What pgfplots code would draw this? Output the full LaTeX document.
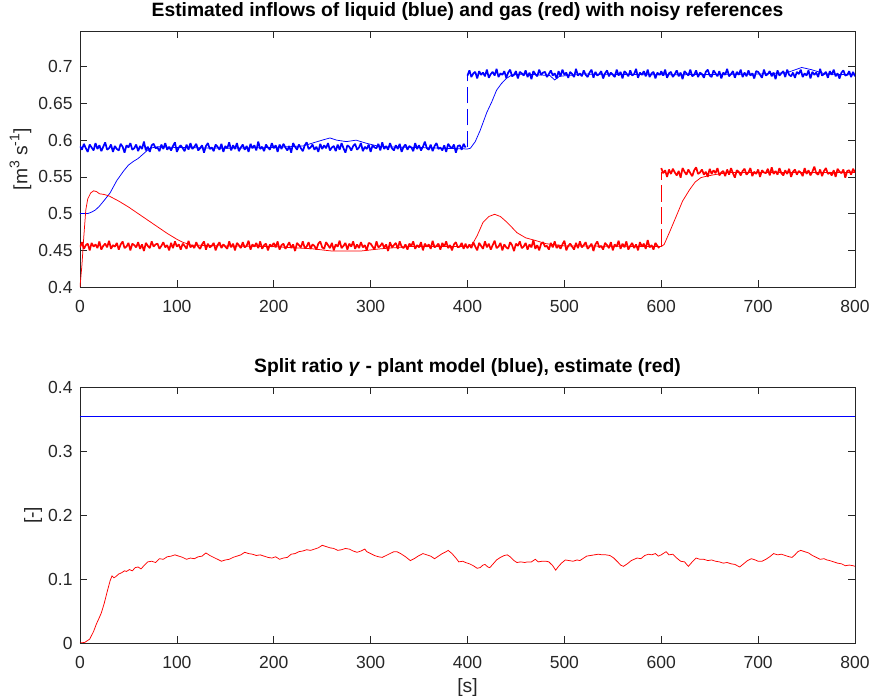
\documentclass[border=0pt]{standalone}
\usepackage{pgfplots}
\pgfplotsset{compat=1.18}
\usepackage{pgfplotstable}
\usepackage{fontspec}
\setmainfont{Liberation Sans}
\definecolor{axgray}{RGB}{38,38,38}
\definecolor{mblue}{RGB}{0,0,255}
\definecolor{mred}{RGB}{255,0,0}
\newcommand\sups[1]{\raisebox{0.42em}{\fontsize{14}{14}\selectfont #1}}

% noisy reference inflows: t [s], liquid (b), gas (r)
\pgfplotstableread{
t b r
0 0.592 0.454
2 0.587 0.461
4 0.595 0.452
6 0.589 0.457
8 0.584 0.459
10 0.594 0.450
12 0.590 0.460
14 0.586 0.455
16 0.596 0.458
18 0.588 0.453
20 0.593 0.462
22 0.585 0.451
24 0.591 0.456
26 0.597 0.459
28 0.587 0.454
30 0.589 0.463
32 0.594 0.452
34 0.584 0.457
36 0.592 0.455
38 0.588 0.460
40 0.586 0.451
42 0.595 0.458
44 0.591 0.462
46 0.583 0.453
48 0.593 0.455
50 0.590 0.460
52 0.596 0.450
54 0.587 0.459
56 0.589 0.457
58 0.594 0.454
60 0.585 0.461
62 0.592 0.452
64 0.588 0.458
66 0.598 0.449
68 0.586 0.460
70 0.591 0.456
72 0.584 0.453
74 0.593 0.462
76 0.595 0.455
78 0.589 0.458
80 0.590 0.459
82 0.585 0.452
84 0.594 0.456
86 0.588 0.461
88 0.596 0.454
90 0.587 0.457
92 0.591 0.450
94 0.586 0.460
96 0.592 0.453
98 0.597 0.462
100 0.584 0.455
102 0.590 0.458
104 0.593 0.451
106 0.589 0.459
108 0.585 0.456
110 0.594 0.452
112 0.587 0.463
114 0.596 0.454
116 0.588 0.457
118 0.591 0.453
120 0.595 0.461
122 0.586 0.455
124 0.589 0.452
126 0.593 0.458
128 0.583 0.462
130 0.592 0.451
132 0.596 0.459
134 0.588 0.454
136 0.590 0.456
138 0.585 0.460
140 0.594 0.450
142 0.591 0.457
144 0.587 0.461
146 0.595 0.453
148 0.584 0.458
150 0.592 0.455
152 0.589 0.452
154 0.597 0.462
156 0.586 0.454
158 0.593 0.459
160 0.588 0.450
162 0.596 0.460
164 0.585 0.457
166 0.590 0.453
168 0.594 0.461
170 0.587 0.454
172 0.592 0.456
174 0.584 0.463
176 0.595 0.451
178 0.589 0.458
180 0.593 0.455
182 0.586 0.460
184 0.598 0.453
186 0.588 0.462
188 0.591 0.452
190 0.585 0.457
192 0.594 0.459
194 0.590 0.450
196 0.587 0.458
198 0.596 0.455
200 0.589 0.460
202 0.593 0.454
204 0.584 0.462
206 0.594 0.451
208 0.588 0.457
210 0.595 0.459
212 0.590 0.452
214 0.586 0.456
216 0.592 0.461
218 0.583 0.453
220 0.596 0.458
222 0.591 0.449
224 0.587 0.460
226 0.594 0.457
228 0.589 0.454
230 0.585 0.462
232 0.593 0.453
234 0.597 0.455
236 0.588 0.461
238 0.590 0.452
240 0.594 0.458
242 0.587 0.456
244 0.591 0.451
246 0.584 0.459
248 0.595 0.462
250 0.588 0.454
252 0.593 0.452
254 0.589 0.461
256 0.596 0.457
258 0.586 0.453
260 0.590 0.460
262 0.592 0.450
264 0.585 0.458
266 0.594 0.455
268 0.587 0.463
270 0.596 0.453
272 0.589 0.456
274 0.583 0.460
276 0.593 0.451
278 0.591 0.459
280 0.586 0.455
282 0.592 0.462
284 0.595 0.452
286 0.587 0.458
288 0.590 0.453
290 0.596 0.461
292 0.585 0.454
294 0.591 0.457
296 0.588 0.450
298 0.594 0.460
300 0.584 0.459
302 0.593 0.455
304 0.590 0.451
306 0.589 0.462
308 0.595 0.454
310 0.586 0.456
312 0.597 0.460
314 0.588 0.453
316 0.592 0.458
318 0.587 0.449
320 0.596 0.461
322 0.589 0.454
324 0.586 0.457
326 0.593 0.460
328 0.588 0.452
330 0.595 0.462
332 0.584 0.455
334 0.591 0.453
336 0.594 0.458
338 0.587 0.451
340 0.592 0.459
342 0.590 0.456
344 0.585 0.462
346 0.596 0.452
348 0.588 0.457
350 0.593 0.454
352 0.586 0.461
354 0.591 0.450
356 0.598 0.459
358 0.589 0.455
360 0.587 0.458
362 0.594 0.452
364 0.585 0.463
366 0.592 0.454
368 0.596 0.456
370 0.588 0.459
372 0.590 0.451
374 0.586 0.460
376 0.593 0.455
378 0.584 0.462
380 0.595 0.453
382 0.591 0.457
384 0.589 0.450
386 0.594 0.458
388 0.583 0.461
390 0.592 0.454
392 0.593 0.455
394 0.587 0.460
396 0.595 0.452
398 0.590 0.459
399 nan 0.455
400 0.688 0.453
402 0.695 0.458
404 0.686 0.453
406 0.691 0.461
408 0.693 0.455
410 0.684 0.450
412 0.694 0.460
414 0.689 0.456
416 0.692 0.452
418 0.687 0.462
420 0.696 0.454
422 0.685 0.459
424 0.690 0.451
426 0.693 0.457
428 0.688 0.463
430 0.697 0.453
432 0.686 0.455
434 0.691 0.460
436 0.689 0.450
438 0.694 0.458
440 0.685 0.454
442 0.692 0.452
444 0.696 0.461
446 0.687 0.457
448 0.689 0.449
450 0.694 0.459
452 0.684 0.456
454 0.693 0.462
456 0.691 0.453
458 0.688 0.455
460 0.695 0.460
462 0.686 0.451
464 0.692 0.458
466 0.683 0.454
468 0.694 0.464
470 0.690 0.452
472 0.687 0.457
474 0.696 0.450
476 0.689 0.459
478 0.692 0.461
480 0.693 0.455
482 0.686 0.456
484 0.690 0.451
486 0.695 0.460
488 0.688 0.454
490 0.691 0.462
492 0.684 0.453
494 0.694 0.457
496 0.687 0.452
498 0.696 0.458
500 0.689 0.463
502 0.692 0.450
504 0.685 0.456
506 0.693 0.459
508 0.690 0.455
510 0.686 0.451
512 0.697 0.460
514 0.688 0.453
516 0.691 0.462
518 0.687 0.454
520 0.695 0.457
522 0.689 0.461
524 0.686 0.452
526 0.692 0.455
528 0.696 0.459
530 0.685 0.449
532 0.693 0.458
534 0.688 0.462
536 0.690 0.454
538 0.694 0.456
540 0.684 0.451
542 0.691 0.460
544 0.695 0.457
546 0.687 0.453
548 0.692 0.461
550 0.689 0.450
552 0.686 0.458
554 0.696 0.455
556 0.688 0.463
558 0.693 0.452
560 0.684 0.459
562 0.694 0.454
564 0.691 0.462
566 0.687 0.451
568 0.695 0.456
570 0.688 0.460
572 0.690 0.453
574 0.697 0.458
576 0.685 0.450
578 0.692 0.461
580 0.689 0.455
582 0.694 0.459
584 0.687 0.452
586 0.696 0.464
588 0.686 0.454
590 0.691 0.457
592 0.693 0.451
594 0.684 0.460
596 0.692 0.456
598 0.689 0.453
599 0.690 nan
600 0.694 0.562
602 0.688 0.555
604 0.696 0.559
606 0.685 0.550
608 0.691 0.560
610 0.693 0.554
612 0.686 0.561
614 0.690 0.556
616 0.695 0.552
618 0.687 0.558
620 0.692 0.549
622 0.683 0.562
624 0.694 0.557
626 0.691 0.553
628 0.688 0.560
630 0.696 0.555
632 0.687 0.551
634 0.689 0.559
636 0.695 0.563
638 0.686 0.554
640 0.692 0.556
642 0.690 0.560
644 0.685 0.553
646 0.693 0.557
648 0.696 0.550
650 0.688 0.561
652 0.686 0.554
654 0.695 0.559
656 0.691 0.555
658 0.687 0.562
660 0.694 0.552
662 0.684 0.556
664 0.692 0.558
666 0.689 0.551
668 0.697 0.560
670 0.687 0.553
672 0.690 0.562
674 0.694 0.555
676 0.685 0.549
678 0.693 0.559
680 0.689 0.557
682 0.696 0.552
684 0.686 0.558
686 0.692 0.561
688 0.687 0.553
690 0.695 0.556
692 0.688 0.562
694 0.691 0.551
696 0.684 0.557
698 0.694 0.554
700 0.693 0.560
702 0.689 0.550
704 0.685 0.559
706 0.696 0.556
708 0.688 0.555
710 0.690 0.561
712 0.694 0.552
714 0.687 0.563
716 0.692 0.554
718 0.683 0.558
720 0.695 0.553
722 0.688 0.562
724 0.691 0.555
726 0.694 0.552
728 0.686 0.559
730 0.696 0.554
732 0.689 0.561
734 0.687 0.550
736 0.692 0.557
738 0.685 0.560
740 0.693 0.553
742 0.690 0.558
744 0.696 0.556
746 0.686 0.551
748 0.691 0.562
750 0.688 0.554
752 0.695 0.559
754 0.684 0.552
756 0.693 0.557
758 0.689 0.564
760 0.692 0.555
762 0.686 0.553
764 0.697 0.560
766 0.688 0.551
768 0.690 0.558
770 0.693 0.562
772 0.685 0.554
774 0.694 0.556
776 0.689 0.552
778 0.696 0.559
780 0.687 0.550
782 0.691 0.561
784 0.684 0.557
786 0.692 0.555
788 0.695 0.560
790 0.688 0.549
792 0.689 0.558
794 0.694 0.559
796 0.686 0.553
798 0.693 0.561
800 0.687 0.556
}\noisy

\pgfplotsset{
  mstyle/.style={
    scale only axis, width=775pt, height=255.5pt,
    xmin=0, xmax=800, xtick={0,100,200,300,400,500,600,700,800},
    tick pos=both, tick align=inside, major tick length=7pt,
    axis line style={axgray, line width=0.6pt},
    every tick/.style={axgray, line width=0.6pt},
    tick label style={font=\fontsize{17.5}{20}\selectfont, text=axgray, inner sep=0pt},
    x tick label style={anchor=north, yshift=-13.4pt},
    y tick label style={anchor=east, xshift=-7.3pt},
    /pgf/number format/assume math mode=true,
    label style={font=\fontsize{19.3}{22}\selectfont, text=axgray},
    title style={font=\bfseries\fontsize{19.3}{22}\selectfont,
      at={(axis description cs:0.5,1)}, anchor=base, yshift=8.5pt},
    unbounded coords=jump,
  },
  noise/.style={line width=1.7pt, line join=bevel},
  est/.style={line width=0.75pt},
  stepref/.style={line width=1.4pt},
}

\begin{document}
\begin{tikzpicture}
\path[use as bounding box] (-80pt,-413pt) rectangle (791pt,287pt);

% top: inflow estimates
\begin{axis}[mstyle, at={(0pt,0pt)}, anchor=south west,
  ymin=0.4, ymax=0.748, ytick={0.4,0.45,0.5,0.55,0.6,0.65,0.7},
  ylabel={[m\sups{3} s\sups{-1}]},
  ylabel style={at={(axis description cs:-0.0768,0.5)}, anchor=center},
  title={Estimated inflows of liquid (blue) and gas (red) with noisy references}]
% dashed steps of the references (dash segments separated by gaps)
\addplot[color=mblue, stepref] coordinates {
(400,0.590) (400,0.613) (400,nan) (400,0.620) (400,0.643) (400,nan)
(400,0.650) (400,0.673) (400,nan) (400,0.680) (400,0.690)};
\addplot[color=mred, stepref] coordinates {
(600,0.456) (600,0.479) (600,nan) (600,0.486) (600,0.509) (600,nan)
(600,0.516) (600,0.539) (600,nan) (600,0.546) (600,0.556)};
\addplot[color=mblue, noise] table[x=t, y=b] {\noisy};
\addplot[color=mred, noise] table[x=t, y=r] {\noisy};
\addplot[color=mblue, est] coordinates {
(0,0.5) (8,0.5) (12,0.502) (16,0.505) (20,0.51) (25,0.518) (31,0.528) (38,0.545)
(45,0.558) (50,0.566) (55,0.571) (60,0.575) (66,0.582) (72,0.589) (80,0.591)
(100,0.590) (150,0.589) (200,0.590) (230,0.592) (250,0.600) (258,0.603) (265,0.600)
(275,0.598) (285,0.600) (295,0.596) (310,0.591) (350,0.590) (400,0.588) (403,0.589)
(408,0.598) (413,0.613) (420,0.638) (425,0.652) (430,0.668) (435,0.677) (440,0.684)
(446,0.689) (460,0.690) (485,0.688) (490,0.682) (495,0.687) (520,0.690) (600,0.689)
(700,0.690) (730,0.692) (745,0.699) (755,0.696) (770,0.690) (800,0.689)};
\addplot[color=mred, est] coordinates {
(0,0.4) (2,0.43) (4,0.47) (6,0.505) (8,0.52) (11,0.528) (14,0.531) (17,0.530)
(20,0.527) (25,0.526) (30,0.524) (40,0.517) (50,0.509) (60,0.500) (70,0.491)
(80,0.482) (90,0.473) (100,0.465) (106,0.461) (115,0.457) (150,0.456) (200,0.455)
(240,0.452) (260,0.449) (290,0.449) (310,0.452) (340,0.455) (400,0.455) (405,0.458)
(410,0.47) (416,0.488) (422,0.496) (428,0.499) (434,0.496) (440,0.489) (446,0.481)
(451,0.474) (460,0.467) (471,0.463) (481,0.459) (500,0.456) (600,0.455) (603,0.458)
(609,0.476) (616,0.498) (622,0.517) (629,0.532) (635,0.543) (641,0.549) (647,0.551)
(655,0.553) (670,0.556) (700,0.556) (800,0.556)};
\end{axis}

% bottom: split ratio
\begin{axis}[mstyle, at={(0pt,-356pt)}, anchor=south west,
  ymin=0, ymax=0.4, ytick={0,0.1,0.2,0.3,0.4},
  ylabel={[-]},
  ylabel style={at={(axis description cs:-0.0606,0.5)}, anchor=center},
  xlabel={[s]},
  xlabel style={at={(axis description cs:0.5,-0.176)}, anchor=center},
  title={Split ratio \textit{γ} - plant model (blue), estimate (red)}]
\addplot[color=mblue, est] coordinates {(0,0.355) (800,0.355)};
\addplot[color=mred, est] coordinates {
(0,0) (5,0.001) (10,0.006) (14,0.018) (17,0.030) (20,0.040) (22,0.047) (25,0.062)
(28,0.080) (31,0.097) (33,0.105) (35,0.102) (37,0.104) (40,0.108) (43,0.110)
(46,0.113) (48,0.112) (51,0.115) (54,0.113) (57,0.118) (60,0.119) (63,0.116)
(66,0.121) (70,0.127) (74,0.128) (78,0.126) (82,0.132) (86,0.131) (90,0.135)
(94,0.136) (98,0.138) (102,0.136) (106,0.134) (110,0.131) (114,0.133) (118,0.132)
(122,0.135) (126,0.136) (130,0.141) (134,0.137) (138,0.134) (142,0.131) (146,0.128)
(150,0.130) (154,0.131) (158,0.134) (162,0.136) (166,0.138) (170,0.142) (174,0.140)
(178,0.139) (182,0.137) (186,0.138) (190,0.136) (194,0.134) (198,0.133) (202,0.135)
(206,0.131) (210,0.133) (214,0.134) (218,0.139) (222,0.140) (226,0.143) (230,0.144)
(234,0.146) (238,0.145) (242,0.147) (246,0.149) (250,0.153) (254,0.151) (258,0.149)
(262,0.148) (266,0.145) (270,0.146) (274,0.148) (278,0.147) (282,0.144) (286,0.142)
(290,0.144) (294,0.147) (296,0.143) (300,0.140) (304,0.137) (308,0.135) (312,0.134)
(316,0.137) (320,0.140) (324,0.143) (327,0.143) (331,0.140) (336,0.135) (341,0.129)
(345,0.132) (349,0.136) (354,0.140) (358,0.138) (362,0.136) (366,0.132) (370,0.136)
(374,0.140) (378,0.143) (380,0.145) (384,0.140) (388,0.133) (391,0.127) (395,0.128)
(398,0.126) (402,0.124) (406,0.121) (410,0.117) (413,0.118) (416,0.122) (418,0.123)
(421,0.119) (423,0.118) (426,0.123) (430,0.130) (434,0.134) (438,0.137) (441,0.138)
(444,0.135) (448,0.129) (451,0.126) (455,0.127) (459,0.126) (462,0.127) (466,0.127)
(470,0.131) (473,0.127) (477,0.128) (481,0.128) (484,0.127) (488,0.121) (491,0.114)
(494,0.120) (497,0.125) (501,0.130) (505,0.129) (509,0.128) (513,0.130) (516,0.129)
(520,0.133) (523,0.136) (527,0.137) (531,0.138) (535,0.139) (539,0.138) (543,0.138)
(547,0.137) (551,0.133) (555,0.127) (558,0.122) (561,0.120) (565,0.124) (569,0.129)
(572,0.131) (575,0.133) (579,0.132) (583,0.137) (587,0.139) (590,0.138) (594,0.140)
(597,0.136) (600,0.138) (603,0.141) (605,0.143) (608,0.138) (612,0.139) (616,0.133)
(620,0.128) (624,0.127) (628,0.120) (632,0.127) (636,0.133) (640,0.131) (644,0.131)
(648,0.129) (652,0.130) (656,0.128) (660,0.127) (664,0.125) (668,0.126) (672,0.124)
(676,0.123) (681,0.119) (685,0.124) (689,0.129) (693,0.132) (697,0.130) (700,0.128)
(704,0.128) (708,0.131) (712,0.135) (716,0.140) (720,0.138) (724,0.139) (728,0.137)
(732,0.135) (735,0.134) (738,0.138) (741,0.143) (744,0.145) (748,0.143) (752,0.141)
(756,0.137) (760,0.134) (764,0.131) (768,0.132) (771,0.130) (774,0.129) (778,0.127)
(782,0.125) (786,0.124) (790,0.121) (794,0.122) (798,0.121) (800,0.120)};
\end{axis}
\end{tikzpicture}
\end{document}
